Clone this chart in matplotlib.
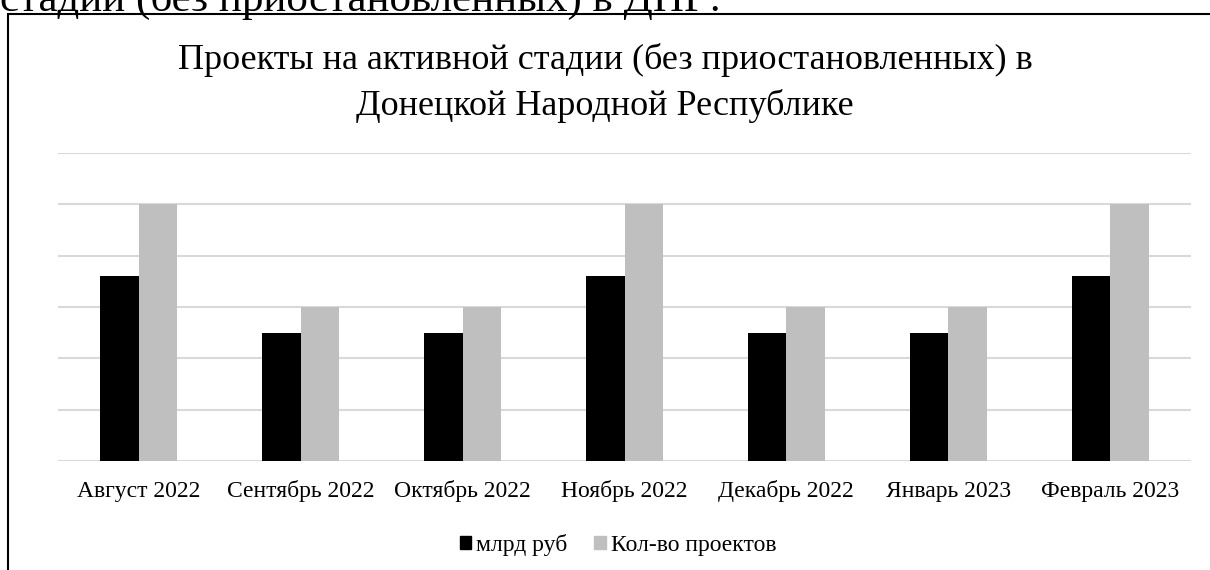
import matplotlib.pyplot as plt
import numpy as np
from matplotlib.patches import Patch, Rectangle

months = ['Август 2022', 'Сентябрь 2022', 'Октябрь 2022', 'Ноябрь 2022',
          'Декабрь 2022', 'Январь 2023', 'Февраль 2023']
bln_rub = [3.6, 2.5, 2.5, 3.6, 2.5, 2.5, 3.6]
n_projects = [5, 3, 3, 5, 3, 3, 5]
series_names = ['млрд руб', 'Кол-во проектов']
colors = ['#000000', '#bfbfbf']

plt.rcParams['font.family'] = ['Liberation Serif', 'DejaVu Serif']

W, H = 1210, 570
fig = plt.figure(figsize=(W / 100, H / 100), dpi=100)
ax = fig.add_axes([58 / W, 1 - 461 / H, (1191 - 58) / W, (461 - 153) / H])

x = np.arange(len(months))
bw = 0.238
ax.bar(x - bw / 2, bln_rub, bw, color=colors[0], zorder=3)
ax.bar(x + bw / 2, n_projects, bw, color=colors[1], zorder=3)

ax.set_xlim(-0.5, len(months) - 0.5)
ax.set_ylim(0, 6)
ax.set_yticks(np.arange(0, 7, 1))
ax.set_yticklabels([])
ax.tick_params(axis='y', length=0)
ax.grid(axis='y', color='#d9d9d9', lw=1.5, zorder=0)
for s in ax.spines.values():
    s.set_visible(False)
ax.set_xticks(x)
ax.set_xticklabels(months, fontsize=17)
ax.tick_params(axis='x', length=0, pad=26)
for lbl in ax.get_xticklabels():
    lbl.set_verticalalignment('baseline')

# title (two lines)
fig.text(0.5, 1 - 69 / H, 'Проекты на активной стадии (без приостановленных) в',
         ha='center', va='baseline', fontsize=26)
fig.text(0.5, 1 - 115 / H, 'Донецкой Народной Республике',
         ha='center', va='baseline', fontsize=26)

# text of the page cut at the top
fig.text(0, 1 - 11 / H, 'стадии (без приостановленных) в ДНР:',
         ha='left', va='baseline', fontsize=31)

# chart frame
fig.patches.append(Rectangle((8 / W, -0.1), 1.2, 1 - 14 / H + 0.1,
                             transform=fig.transFigure, fill=False,
                             ec='black', lw=1.5))

handles = [Patch(color=c, label=n) for c, n in zip(colors, series_names)]
fig.legend(handles=handles, loc='center', bbox_to_anchor=(618 / W, 1 - 545 / H),
           ncol=2, frameon=False, fontsize=17, handlelength=0.5,
           handleheight=0.5, handletextpad=0.2, columnspacing=1.15)

fig.savefig('out.png', dpi=100)
